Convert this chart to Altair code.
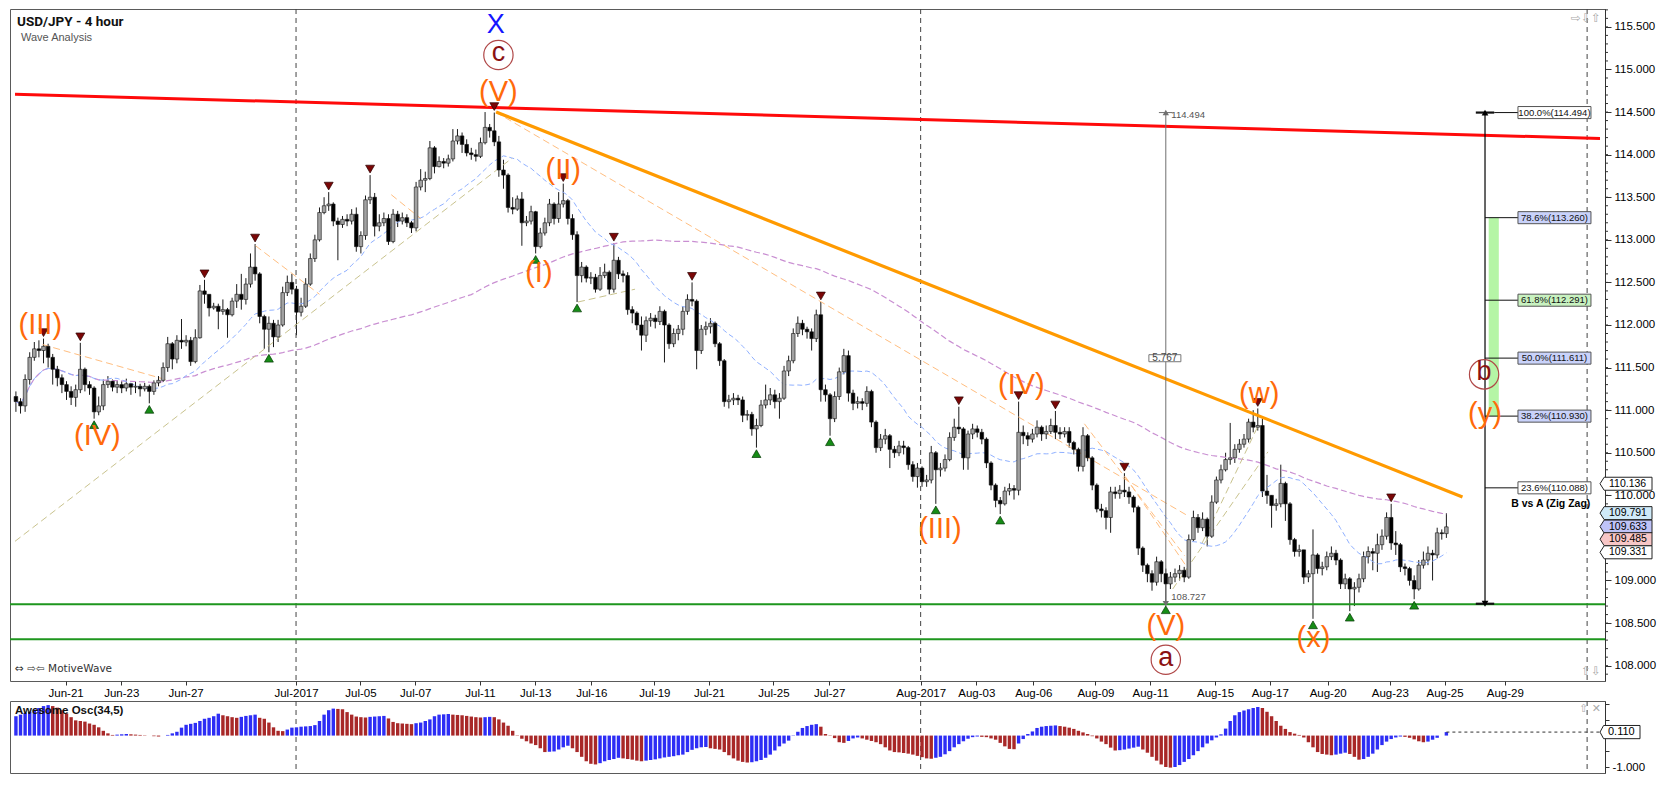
import altair as alt
import numpy as np
import pandas as pd

# ---------------- price data (4-hour candles) ----------------
first_open = 111.16
closes = [
    111.10, 111.05, 111.36, 111.62, 111.72, 111.70, 111.75, 111.62, 111.48, 111.38,
    111.30, 111.22, 111.15, 111.24, 111.48, 111.30, 111.26, 110.98, 111.05, 111.30,
    111.34, 111.27, 111.30, 111.26, 111.31, 111.27, 111.28, 111.25, 111.28, 111.22,
    111.32, 111.35, 111.50, 111.78, 111.60, 111.82, 111.80, 111.82, 111.57, 111.85,
    112.40, 112.36, 112.20, 112.22, 112.16, 112.18, 112.12, 112.28, 112.36, 112.30,
    112.48, 112.68, 112.60, 112.10, 111.95, 112.02, 111.86, 112.00, 112.38, 112.50,
    112.42, 112.15, 112.22, 112.48, 112.78, 113.00, 113.32, 113.40, 113.42, 113.22,
    113.18, 113.24, 113.22, 113.30, 112.92, 113.05, 113.47, 113.50, 113.16, 113.20,
    113.25, 112.98, 113.30, 113.22, 113.26, 113.20, 113.14, 113.62, 113.70, 113.72,
    114.08, 113.86, 113.92, 113.90, 113.95, 114.16, 114.22, 114.12, 114.02, 114.00,
    113.98, 114.14, 114.32, 114.28, 114.15, 113.82, 113.76, 113.38, 113.36, 113.48,
    113.20, 113.22, 113.33, 112.92, 113.08, 113.20, 113.42, 113.25, 113.42, 113.46,
    113.25, 113.06, 112.58, 112.68, 112.55, 112.56, 112.42, 112.58, 112.62, 112.42,
    112.76, 112.60, 112.58, 112.18, 112.14, 112.00, 111.88, 112.05, 112.08, 112.04,
    112.16, 112.00, 111.78, 111.90, 111.95, 112.16, 112.30, 112.28, 111.70, 111.95,
    111.98, 112.02, 111.78, 111.58, 111.10, 111.12, 111.14, 111.12, 110.94, 110.95,
    110.78, 110.82, 111.06, 111.12, 111.18, 111.10, 111.14, 111.46, 111.58, 111.90,
    112.02, 111.95, 111.92, 111.84, 112.12, 111.24, 111.18, 110.90, 111.16, 111.45,
    111.64, 111.20, 111.08, 111.10, 111.08, 111.22, 110.86, 110.56, 110.66, 110.70,
    110.54, 110.50, 110.58, 110.56, 110.36, 110.22, 110.32, 110.16, 110.18, 110.50,
    110.30, 110.32, 110.42, 110.68, 110.80, 110.78, 110.44, 110.72, 110.78, 110.74,
    110.66, 110.38, 110.12, 109.94, 109.90, 110.05, 110.08, 110.06, 110.74, 110.70,
    110.66, 110.72, 110.80, 110.72, 110.75, 110.82, 110.74, 110.72, 110.75, 110.62,
    110.54, 110.34, 110.70, 110.44, 110.12, 109.84, 109.82, 109.74, 110.04, 110.02,
    110.06, 110.04, 109.98, 109.86, 109.38, 109.18, 109.08, 108.98, 109.22, 109.08,
    108.96, 109.04, 109.08, 109.12, 109.04, 109.48, 109.74, 109.62, 109.72, 109.52,
    109.92, 110.18, 110.30, 110.42, 110.44, 110.54, 110.60, 110.66, 110.86, 110.80,
    110.82, 110.05, 110.00, 109.88, 109.90, 110.14, 109.90, 109.48, 109.34, 109.36,
    109.04, 109.08, 109.30, 109.14, 109.16, 109.28, 109.32, 109.24, 108.96, 109.02,
    108.90, 108.92, 109.02, 109.28, 109.34, 109.32, 109.42, 109.52, 109.74, 109.44,
    109.42, 109.16, 109.14, 109.00, 108.90, 109.18, 109.24, 109.32, 109.30, 109.56, 109.55, 109.63,
]
highs = [
    111.22, 111.14, 111.42, 111.68, 111.80, 111.82, 111.84, 111.78, 111.66, 111.52,
    111.42, 111.34, 111.28, 111.30, 111.79, 111.50, 111.34, 111.28, 111.16, 111.36,
    111.40, 111.36, 111.35, 111.34, 111.37, 111.32, 111.34, 111.31, 111.32, 111.30,
    111.35, 111.40, 111.56, 111.86, 111.80, 111.88, 112.07, 111.88, 111.86, 111.95,
    112.47, 112.53, 112.36, 112.26, 112.25, 112.30, 112.20, 112.32, 112.48, 112.60,
    112.55, 112.84, 112.95, 112.62, 112.12, 112.10, 112.06, 112.06, 112.45, 112.58,
    112.60, 112.46, 112.32, 112.55, 112.84, 113.06, 113.38, 113.50, 113.56, 113.44,
    113.26, 113.28, 113.30, 113.36, 113.38, 113.10, 113.52, 113.76, 113.55, 113.30,
    113.32, 113.30, 113.36, 113.34, 113.32, 113.30, 113.22, 113.68, 113.83, 113.80,
    114.16, 114.10, 113.98, 113.96, 114.00, 114.30, 114.30, 114.26, 114.18, 114.08,
    114.06, 114.20, 114.50, 114.36, 114.494, 114.22, 113.94, 113.78, 113.50, 113.52,
    113.56, 113.28, 113.40, 113.34, 113.14, 113.26, 113.48, 113.44, 113.56, 113.66,
    113.48, 113.30, 113.10, 112.74, 112.70, 112.62, 112.60, 112.68, 112.72, 112.64,
    112.96, 112.80, 112.64, 112.62, 112.22, 112.16, 112.10, 112.10, 112.14, 112.12,
    112.22, 112.18, 112.02, 111.96, 112.00, 112.22, 112.36, 112.50, 112.30, 112.00,
    112.04, 112.08, 112.04, 111.80, 111.60, 111.18, 111.20, 111.18, 111.16, 111.00,
    110.98, 110.90, 111.12, 111.30, 111.26, 111.24, 111.20, 111.52, 111.64, 111.96,
    112.10, 112.06, 111.98, 111.96, 112.18, 112.27, 111.30, 111.20, 111.22, 111.50,
    111.72, 111.70, 111.24, 111.16, 111.14, 111.28, 111.24, 110.88, 110.72, 110.78,
    110.72, 110.58, 110.64, 110.64, 110.58, 110.40, 110.38, 110.34, 110.24, 110.58,
    110.52, 110.38, 110.48, 110.74, 110.90, 111.04, 110.80, 110.76, 110.84, 110.82,
    110.78, 110.68, 110.40, 110.14, 109.98, 110.10, 110.14, 110.12, 111.10, 110.82,
    110.74, 110.78, 110.88, 110.82, 110.82, 110.90, 110.99, 110.80, 110.80, 110.80,
    110.64, 110.56, 110.80, 110.72, 110.46, 110.14, 109.90, 109.86, 110.10, 110.10,
    110.12, 110.26, 110.10, 110.00, 109.88, 109.40, 109.20, 109.12, 109.28, 109.24,
    109.14, 109.10, 109.14, 109.18, 109.16, 109.54, 109.82, 109.78, 109.80, 109.74,
    110.00, 110.22, 110.36, 110.50, 110.85, 110.60, 110.66, 110.72, 110.90, 111.00,
    111.02, 110.90, 110.24, 110.00, 109.96, 110.36, 110.16, 109.92, 109.50, 109.42,
    109.36, 109.12, 109.60, 109.32, 109.22, 109.34, 109.40, 109.36, 109.26, 109.08,
    109.04, 108.98, 109.08, 109.34, 109.40, 109.38, 109.55, 109.60, 109.80, 109.90,
    109.58, 109.44, 109.20, 109.16, 109.06, 109.24, 109.34, 109.40, 109.36, 109.62, 109.60, 109.79,
]
lows = [
    110.98, 110.96, 110.98, 111.30, 111.58, 111.62, 111.55, 111.50, 111.30, 111.28,
    111.20, 111.12, 111.06, 111.04, 111.20, 111.22, 111.18, 110.90, 110.94, 111.00,
    111.26, 111.22, 111.20, 111.20, 111.22, 111.18, 111.20, 111.16, 111.22, 111.08,
    111.18, 111.28, 111.33, 111.45, 111.48, 111.55, 111.72, 111.75, 111.52, 111.55,
    111.84, 112.25, 112.10, 112.18, 111.95, 112.12, 111.85, 112.10, 112.20, 112.18,
    112.24, 112.44, 112.52, 112.02, 111.72, 111.68, 111.74, 111.80, 111.98, 112.34,
    112.36, 111.88, 112.10, 112.20, 112.46, 112.74, 112.98, 113.30, 113.34, 113.16,
    112.76, 113.14, 113.16, 113.18, 112.86, 112.84, 113.00, 113.42, 113.04, 113.10,
    113.16, 112.94, 112.96, 113.15, 113.18, 113.15, 113.08, 113.10, 113.58, 113.56,
    113.70, 113.78, 113.85, 113.84, 113.86, 113.92, 114.12, 114.02, 113.98, 113.94,
    113.92, 113.96, 114.12, 114.20, 114.10, 113.74, 113.60, 113.32, 113.30, 113.34,
    112.93, 113.16, 113.18, 112.84, 112.90, 113.05, 113.16, 113.18, 113.20, 113.38,
    113.18, 113.00, 112.27, 112.50, 112.50, 112.48, 112.38, 112.40, 112.55, 112.36,
    112.38, 112.54, 112.50, 112.12, 112.02, 111.94, 111.70, 111.80, 111.98, 111.96,
    112.00, 111.56, 111.72, 111.74, 111.82, 111.88, 112.12, 112.22, 111.48, 111.66,
    111.88, 111.90, 111.74, 111.52, 111.04, 111.02, 111.06, 111.06, 110.86, 110.88,
    110.70, 110.56, 110.80, 111.02, 111.06, 111.02, 110.90, 111.12, 111.40, 111.55,
    111.86, 111.88, 111.84, 111.70, 111.80, 111.10, 111.10, 110.70, 110.86, 111.12,
    111.42, 111.10, 111.00, 111.02, 111.00, 111.04, 110.80, 110.50, 110.52, 110.60,
    110.32, 110.44, 110.46, 110.48, 110.30, 110.16, 110.09, 110.10, 110.10, 110.14,
    109.90, 110.22, 110.28, 110.40, 110.64, 110.72, 110.30, 110.30, 110.66, 110.68,
    110.60, 110.32, 110.06, 109.86, 109.78, 109.88, 110.00, 109.95, 110.00, 110.60,
    110.58, 110.62, 110.68, 110.64, 110.66, 110.72, 110.66, 110.66, 110.68, 110.56,
    110.48, 110.28, 110.28, 110.40, 110.06, 109.80, 109.74, 109.60, 109.56, 109.96,
    109.96, 109.98, 109.90, 109.80, 109.30, 109.10, 108.98, 108.88, 108.94, 108.98,
    108.727, 108.90, 108.98, 109.00, 108.98, 109.02, 109.46, 109.56, 109.58, 109.40,
    109.50, 109.90, 110.14, 110.28, 110.36, 110.38, 110.50, 110.56, 110.62, 110.74,
    110.76, 109.98, 109.90, 109.62, 109.82, 109.86, 109.70, 109.42, 109.28, 109.28,
    108.96, 108.98, 108.55, 109.08, 109.06, 109.12, 109.24, 109.18, 108.90, 108.90,
    108.64, 108.70, 108.86, 108.98, 109.20, 109.12, 109.10, 109.36, 109.48, 109.36,
    109.30, 109.10, 109.06, 108.94, 108.78, 108.88, 109.14, 109.18, 109.00, 109.26, 109.48, 109.50,
]
# Awesome Oscillator bars
ao_values = [
    0.61, 0.66, 0.71, 0.75, 0.82, 0.87, 0.93, 0.96, 0.93, 0.88,
    0.80, 0.70, 0.58, 0.48, 0.46, 0.44, 0.38, 0.34, 0.26, 0.15,
    0.07, 0.02, 0.03, 0.04, 0.05, 0.04, 0.03, 0.02, 0.01, 0.00,
    -0.02, -0.03, 0.00, 0.02, 0.07, 0.12, 0.25, 0.34, 0.37, 0.40,
    0.46, 0.53, 0.56, 0.61, 0.69, 0.64, 0.61, 0.58, 0.56, 0.59,
    0.62, 0.64, 0.66, 0.56, 0.53, 0.41, 0.26, 0.15, 0.14, 0.19,
    0.25, 0.26, 0.28, 0.29, 0.30, 0.33, 0.46, 0.66, 0.80, 0.85,
    0.84, 0.83, 0.74, 0.66, 0.60, 0.58, 0.57, 0.59, 0.60, 0.61,
    0.62, 0.54, 0.43, 0.39, 0.38, 0.37, 0.36, 0.39, 0.41, 0.46,
    0.51, 0.61, 0.66, 0.67, 0.68, 0.66, 0.65, 0.64, 0.62, 0.60,
    0.58, 0.57, 0.58, 0.59, 0.58, 0.51, 0.41, 0.31, 0.15, -0.01,
    -0.10, -0.18, -0.25, -0.30, -0.40, -0.52, -0.51, -0.50, -0.44, -0.37,
    -0.32, -0.40, -0.52, -0.67, -0.81, -0.89, -0.91, -0.87, -0.81, -0.77,
    -0.74, -0.70, -0.72, -0.74, -0.76, -0.79, -0.81, -0.79, -0.77, -0.75,
    -0.72, -0.69, -0.67, -0.65, -0.62, -0.60, -0.52, -0.45, -0.40, -0.37,
    -0.36, -0.40, -0.42, -0.44, -0.52, -0.62, -0.72, -0.79, -0.83, -0.85,
    -0.84, -0.81, -0.77, -0.70, -0.60, -0.47, -0.34, -0.25, -0.16, -0.01,
    0.12, 0.24, 0.30, 0.34, 0.36, 0.28, 0.05, 0.01, -0.08, -0.21,
    -0.23, -0.17, -0.09, -0.06, -0.09, -0.13, -0.17, -0.21, -0.27, -0.37,
    -0.47, -0.52, -0.53, -0.55, -0.57, -0.60, -0.64, -0.68, -0.72, -0.73,
    -0.70, -0.67, -0.59, -0.49, -0.37, -0.27, -0.18, -0.10, -0.05, -0.03,
    -0.04, -0.05, -0.09, -0.13, -0.23, -0.34, -0.42, -0.43, -0.25, -0.11,
    0.05, 0.13, 0.24, 0.28, 0.30, 0.31, 0.32, 0.30, 0.28, 0.25,
    0.21, 0.15, 0.10, 0.05, -0.02, -0.09, -0.19, -0.27, -0.38, -0.47,
    -0.46, -0.44, -0.41, -0.38, -0.35, -0.44, -0.54, -0.67, -0.79, -0.91,
    -0.99, -1.01, -0.99, -0.93, -0.83, -0.74, -0.62, -0.49, -0.37, -0.25,
    -0.15, -0.06, 0.04, 0.22, 0.46, 0.64, 0.74, 0.79, 0.83, 0.87,
    0.90, 0.87, 0.75, 0.61, 0.46, 0.31, 0.21, 0.11, 0.06, 0.02,
    -0.06, -0.21, -0.37, -0.52, -0.58, -0.60, -0.62, -0.60, -0.57, -0.54,
    -0.58, -0.67, -0.76, -0.74, -0.67, -0.57, -0.44, -0.30, -0.19, -0.11,
    -0.06, -0.03, -0.04, -0.07, -0.12, -0.18, -0.21, -0.19, -0.13, -0.07, 0.00, 0.11,
]

top_marks = [6, 14, 41, 52, 68, 77, 104, 119, 130, 147, 175, 205, 218, 226, 241, 270, 299]
bottom_marks = [17, 29, 55, 113, 122, 161, 177, 200, 214, 250, 282, 290, 304]

tick_pos = [10.8, 22.9, 36.9, 60.9, 74.9, 86.8, 100.9, 112.9, 125.1, 138.8, 150.7, 164.7,
            176.8, 196.7, 208.8, 221.2, 234.7, 246.6, 260.7, 272.6, 285.2, 298.7, 310.6, 323.7]
tick_labels = ["Jun-21", "Jun-23", "Jun-27", "Jul-2017", "Jul-05", "Jul-07", "Jul-11", "Jul-13",
               "Jul-16", "Jul-19", "Jul-21", "Jul-25", "Jul-27", "Aug-2017", "Aug-03", "Aug-06",
               "Aug-09", "Aug-11", "Aug-15", "Aug-17", "Aug-20", "Aug-23", "Aug-25", "Aug-29"]
period_lines = [60.9, 196.7, 341.6]

wave_text = ["(III)", "(IV)", "(V)", "(I)", "(II)", "(III)", "(IV)", "(w)", "(V)", "(x)", "(y)"]
wave_idx = [5.3, 17.7, 104.9, 113.7, 119.0, 200.9, 218.6, 270.3, 250.0, 282.1, 319.4]
wave_price = [112.0, 110.70, 114.73, 112.61, 113.82, 109.61, 111.30, 111.19, 108.47, 108.32, 110.96]

circ_text = ["c", "a", "b"]
circ_idx = [104.9, 250.0, 319.2]
circ_price = [115.17, 108.07, 111.42]

fib_text = ["100.0%(114.494)", "78.6%(113.260)", "61.8%(112.291)", "50.0%(111.611)", "38.2%(110.930)", "23.6%(110.088)"]
fib_price = [114.494, 113.26, 112.291, 111.611, 110.93, 110.088]
fib_fill = ["#ffffff", "#c9d2fa", "#c8f2c0", "#c9d2fa", "#c9d2fa", "#ffffff"]

tag_price = [110.136, 109.791, 109.633, 109.485, 109.331]
tag_fill = ["#ffffff", "#cfeaf8", "#bfc3f7", "#f7c6c6", "#ffffff"]

# ---------------- layout ----------------
W, HP, HO = 1595, 672, 72
FONT = "Liberation Sans"
XS = alt.Scale(domain=[-0.2, 344.4], nice=False, zero=False)
YS = alt.Scale(domain=[107.82, 115.71], nice=False, zero=False)
OS = alt.Scale(domain=[-1.18, 1.09], nice=False, zero=False)

N = len(closes)
assert len(highs) == N and len(lows) == N and len(ao_values) == N
df = pd.DataFrame({"idx": np.arange(N), "close": closes, "high": highs, "low": lows})
df["open"] = [first_open] + closes[:-1]
df["high"] = df[["high", "open", "close"]].max(axis=1)
df["low"] = df[["low", "open", "close"]].min(axis=1)

label_expr = ("[" + ",".join(f"'{l}'" for l in tick_labels) + "][indexof(["
              + ",".join(str(p) for p in tick_pos) + "], datum.value)]")
x_axis = alt.Axis(values=tick_pos, labelExpr=label_expr, title=None, grid=False, domain=False,
                  tickSize=4, tickColor="#333", labelFont=FONT, labelFontSize=11.5,
                  labelColor="#000", labelPadding=2)
# the 109.500 label sits under the price tags in the original, so it is left blank
y_axis = alt.Axis(orient="right", values=[float(v) for v in np.arange(108.0, 115.51, 0.5)],
                  labelExpr="datum.value == 109.5 ? '' : format(datum.value, '.3f')",
                  title=None, grid=False, tickSize=6, tickColor="#333",
                  domainColor="#333", labelFont=FONT, labelFontSize=11.5, labelColor="#000",
                  labelPadding=3)
osc_axis = alt.Axis(orient="right", values=[-1.0, -0.5, 0.0, 0.5, 1.0],
                    labelExpr="datum.value == -1 ? '-1.000' : ''", title=None, grid=False,
                    tickSize=4, tickColor="#333", domainColor="#333", labelFont=FONT,
                    labelFontSize=11.5, labelColor="#000", labelPadding=3)


def xq(f="idx"):
    return alt.X(f"{f}:Q", scale=XS, axis=x_axis)


def yq(f):
    return alt.Y(f"{f}:Q", scale=YS, axis=y_axis)


def oq(f):
    return alt.Y(f"{f}:Q", scale=OS, axis=osc_axis)


def xo(f="idx"):
    return alt.X(f"{f}:Q", scale=XS, axis=None)


def seg_chart(rows, **props):
    d = pd.DataFrame(rows, columns=["x1", "y1", "x2", "y2"])
    return alt.Chart(d).mark_rule(**props).encode(x=xq("x1"), x2="x2:Q", y=yq("y1"), y2="y2:Q")


minor = pd.DataFrame({"p": [float(v) for v in np.round(np.arange(107.9, 115.71, 0.1), 1)]})

# candles
wick = alt.Chart(df).mark_rule(color="#1a1a1a", strokeWidth=1).encode(
    x=xq(), y=yq("low"), y2="high:Q")
body = alt.Chart(df).mark_bar(size=3.6, stroke="#111", strokeWidth=0.6).encode(
    x=xq(), y=yq("open"), y2="close:Q",
    fill=alt.condition("datum.close >= datum.open", alt.value("#a2a2a2"), alt.value("#000000")))

ma_fast = alt.Chart(df).transform_window(ma="mean(close)", frame=[-19, 0], sort=[alt.SortField("idx")]) \
    .mark_line(color="#8fb0ff", strokeWidth=1, strokeDash=[5, 3]).encode(x=xq(), y=yq("ma"))
ma_slow = alt.Chart(df).transform_window(ma="mean(close)", frame=[-99, 0], sort=[alt.SortField("idx")]) \
    .mark_line(color="#c98fd2", strokeWidth=1.2, strokeDash=[6, 3]).encode(x=xq(), y=yq("ma"))

tops = alt.Chart(df.loc[top_marks]).mark_point(
    shape="triangle-down", filled=True, size=80, color="#7a0606", stroke="#2a0000",
    strokeWidth=0.7, opacity=1, yOffset=-6).encode(x=xq(), y=yq("high"))
bots = alt.Chart(df.loc[bottom_marks]).mark_point(
    shape="triangle-up", filled=True, size=80, color="#168c16", stroke="#063a06",
    strokeWidth=0.7, opacity=1, yOffset=6).encode(x=xq(), y=yq("low"))

vlines = alt.Chart(pd.DataFrame({"x": period_lines})).mark_rule(
    color="#444", strokeDash=[5, 4], strokeWidth=1).encode(x=xq("x"))
green = alt.Chart(pd.DataFrame({"y": [108.72, 108.31]})).mark_rule(
    color="#1e961e", strokeWidth=2).encode(y=yq("y"))

red_line = seg_chart([(-0.2, 114.71, 344.4, 114.19)], color="#ff0a0a", strokeWidth=3)
orange_line = seg_chart([(104.4, 114.50, 314.5, 109.98)], color="#ff9a00", strokeWidth=3.2)
orange_dash = seg_chart([(5.8, 111.77, 32.5, 111.36), (52.1, 112.93, 66.0, 112.36),
                         (81.6, 113.53, 88.0, 113.25), (104.3, 114.50, 255.1, 109.75),
                         (232.3, 110.84, 254.1, 109.29), (241.2, 110.22, 254.3, 109.18)],
                        color="#ffbe80", strokeWidth=1, strokeDash=[7, 4])
khaki_dash = seg_chart([(-0.2, 109.46, 107.9, 113.96), (122.2, 112.27, 134.6, 112.42),
                        (251.5, 108.90, 272.2, 110.51), (257.9, 109.44, 270.1, 110.82)],
                       color="#c9c38e", strokeWidth=1, strokeDash=[7, 4])

# measuring line a->X
meas = seg_chart([(250.0, 108.727, 250.0, 114.494), (248.5, 114.494, 251.5, 114.494)],
                 color="#707070", strokeWidth=1)
meas_arrows = alt.Chart(pd.DataFrame({"x": [250.0, 250.0], "y": [114.494, 108.727],
                                      "s": ["triangle-up", "triangle-down"], "o": [5, -5]})) \
    .mark_point(filled=True, size=40, color="#707070", opacity=1).encode(
        x=xq("x"), y=yq("y"), shape=alt.Shape("s:N", scale=None), yOffset=alt.YOffset("o:Q", scale=None))
meas_txt = alt.Chart(pd.DataFrame({"x": [251.2, 251.2], "y": [114.47, 108.81], "t": ["114.494", "108.727"]})) \
    .mark_text(align="left", baseline="middle", font=FONT, fontSize=9.5, color="#555").encode(
        x=xq("x"), y=yq("y"), text="t:N")
BOX_S = "M-1,-0.22L1,-0.22L1,0.22L-1,0.22Z"
meas_box = alt.Chart(pd.DataFrame({"x": [249.8], "y": [111.61], "t": ["5.767"]})) \
    .mark_point(shape=BOX_S, size=1024, filled=True, color="#ffffff", stroke="#777",
                strokeWidth=1, opacity=1).encode(x=xq("x"), y=yq("y"))
meas_box_t = alt.Chart(pd.DataFrame({"x": [249.8], "y": [111.61], "t": ["5.767"]})) \
    .mark_text(align="center", baseline="middle", font=FONT, fontSize=10, color="#444").encode(
        x=xq("x"), y=yq("y"), text="t:N")

# fibonacci tool (B vs A)
fib_green = alt.Chart(pd.DataFrame({"x1": [320.2], "x2": [322.4], "y1": [110.93], "y2": [113.26]})) \
    .mark_rect(color="#b5f5a6").encode(x=xq("x1"), x2="x2:Q", y=yq("y1"), y2="y2:Q")
fib_main = seg_chart([(319.4, 108.727, 319.4, 114.494)], color="#000", strokeWidth=1.2)
fib_caps = seg_chart([(317.4, 114.494, 321.4, 114.494), (317.4, 108.727, 321.4, 108.727)],
                     color="#111", strokeWidth=2.2)
fib_levels = seg_chart([(321.4, 114.494, 326.7, 114.494)] + [(319.4, p, 326.7, p) for p in fib_price[1:]],
                       color="#111", strokeWidth=1)
fib_arrows = alt.Chart(pd.DataFrame({"x": [319.4, 319.4], "y": [114.494, 108.727],
                                     "s": ["triangle-up", "triangle-down"], "o": [6, -6]})) \
    .mark_point(filled=True, size=45, color="#000", opacity=1).encode(
        x=xq("x"), y=yq("y"), shape=alt.Shape("s:N", scale=None), yOffset=alt.YOffset("o:Q", scale=None))
fib_df = pd.DataFrame({"x": [334.5] * len(fib_price), "y": fib_price, "t": fib_text, "f": fib_fill})
BOX_F = "M-1,-0.165L1,-0.165L1,0.165L-1,0.165Z"
fib_boxes = alt.Chart(fib_df).mark_point(shape=BOX_F, size=5329, filled=True, stroke="#555",
                                         strokeWidth=1, opacity=1).encode(
    x=xq("x"), y=yq("y"), fill=alt.Fill("f:N", scale=None))
fib_txt = alt.Chart(fib_df).mark_text(align="center", baseline="middle", font=FONT, fontSize=9.5,
                                      color="#111").encode(x=xq("x"), y=yq("y"), text="t:N")
bva = alt.Chart(pd.DataFrame({"x": [342.3], "y": [109.90], "t": ["B vs A (Zig Zag)"]})) \
    .mark_text(align="right", baseline="middle", font=FONT, fontSize=10.5, fontWeight="bold",
               color="#000").encode(x=xq("x"), y=yq("y"), text="t:N")

# wave labels
wave_df = pd.DataFrame({"x": wave_idx, "y": wave_price, "t": wave_text})
waves = alt.Chart(wave_df).mark_text(align="center", baseline="middle", font=FONT, fontSize=29,
                                     color="#ff6a0a").encode(x=xq("x"), y=yq("y"), text="t:N")
circ_df = pd.DataFrame({"x": circ_idx, "y": circ_price, "t": circ_text})
circles = alt.Chart(circ_df).mark_point(shape="circle", size=860, filled=False, stroke="#b04848",
                                        strokeWidth=1.2, opacity=1).encode(x=xq("x"), y=yq("y"))
circ_txt = alt.Chart(circ_df).mark_text(align="center", baseline="middle", font=FONT, fontSize=27,
                                        color="#8b1212", dy=-2).encode(x=xq("x"), y=yq("y"), text="t:N")
big_x = alt.Chart(pd.DataFrame({"x": [104.3], "y": [115.52], "t": ["X"]})) \
    .mark_text(align="center", baseline="middle", font=FONT, fontSize=27, color="#1515ff") \
    .encode(x=xq("x"), y=yq("y"), text="t:N")

# right side price tags
TAG = "M-1,0L-0.84,-0.25L1,-0.25L1,0.25L-0.84,0.25Z"
tag_df = pd.DataFrame({"y": tag_price, "t": [f"{p:.3f}" for p in tag_price], "f": tag_fill})
tags = alt.Chart(tag_df).mark_point(shape=TAG, size=2704, filled=True, stroke="#222",
                                    strokeWidth=1, opacity=1).encode(
    x=alt.value(W + 21), y=yq("y"), fill=alt.Fill("f:N", scale=None))
tag_txt = alt.Chart(tag_df).mark_text(align="left", baseline="middle", font=FONT, fontSize=10.5,
                                      color="#000").encode(x=alt.value(W + 4), y=yq("y"), text="t:N")
minor_ticks = alt.Chart(minor).mark_rule(color="#333", strokeWidth=1).encode(
    x=alt.value(W), x2=alt.value(W + 3), y=yq("p"))

# panel texts
title = alt.Chart(pd.DataFrame({"t": ["USD/JPY - 4 hour"]})).mark_text(
    align="left", baseline="middle", font="Roboto", fontSize=13.5, fontWeight="bold", color="#111"
).encode(x=alt.value(7), y=alt.value(13), text="t:N")
subtitle = alt.Chart(pd.DataFrame({"t": ["Wave Analysis"]})).mark_text(
    align="left", baseline="middle", font=FONT, fontSize=11, color="#555"
).encode(x=alt.value(11), y=alt.value(29), text="t:N")
brand = alt.Chart(pd.DataFrame({"t": ["⇔ ⇨⇦ MotiveWave"]})).mark_text(
    align="left", baseline="middle", font="DejaVu Sans", fontSize=10.5, color="#333"
).encode(x=alt.value(5), y=alt.value(HP - 12), text="t:N")
icons_top = alt.Chart(pd.DataFrame({"t": ["⇨⇩⇧"]})).mark_text(
    align="right", baseline="middle", font="DejaVu Sans", fontSize=12, color="#aaa"
).encode(x=alt.value(W - 4), y=alt.value(9), text="t:N")
icons_bot = alt.Chart(pd.DataFrame({"t": ["⇧⇩"]})).mark_text(
    align="right", baseline="middle", font="DejaVu Sans", fontSize=12, color="#aaa"
).encode(x=alt.value(W - 4), y=alt.value(HP - 10), text="t:N")

price = alt.layer(
    wick, vlines, green, ma_slow, ma_fast, khaki_dash, orange_dash, red_line, orange_line,
    fib_green, meas, meas_arrows, meas_txt, meas_box, meas_box_t,
    fib_main, fib_caps, fib_levels, fib_arrows, fib_boxes, fib_txt, bva,
    body, tops, bots, waves, circles, circ_txt, big_x,
    minor_ticks, tags, tag_txt, title, subtitle, brand, icons_top, icons_bot,
).properties(width=W, height=HP)

# ---------------- oscillator ----------------
osc_df = pd.DataFrame({"idx": np.arange(N), "ao": ao_values, "zero": 0.0})
ao_bars = alt.Chart(osc_df).transform_window(prev="lag(ao)", sort=[alt.SortField("idx")]) \
    .mark_bar(size=3.4).encode(
        x=xo(), y=oq("ao"), y2="zero:Q",
        color=alt.condition("datum.prev == null || datum.ao > datum.prev",
                            alt.value("#2d2df5"), alt.value("#a82828")))
osc_v = alt.Chart(pd.DataFrame({"x": period_lines})).mark_rule(
    color="#444", strokeDash=[5, 4], strokeWidth=1).encode(x=xo("x"))
osc_last = alt.Chart(pd.DataFrame({"x1": [311.0], "x2": [344.4], "y": [0.11]})).mark_rule(
    color="#333", strokeDash=[3, 3], strokeWidth=1).encode(x=xo("x1"), x2="x2:Q", y=oq("y"))
TAG_O = "M-1,0L-0.82,-0.33L1,-0.33L1,0.33L-0.82,0.33Z"
osc_tag = alt.Chart(pd.DataFrame({"y": [0.11], "t": ["0.110"]})).mark_point(
    shape=TAG_O, size=1600, filled=True, color="#ffffff", stroke="#222", strokeWidth=1, opacity=1
).encode(x=alt.value(W + 15), y=oq("y"))
osc_tag_t = alt.Chart(pd.DataFrame({"y": [0.11], "t": ["0.110"]})).mark_text(
    align="left", baseline="middle", font=FONT, fontSize=11, color="#000"
).encode(x=alt.value(W + 3), y=oq("y"), text="t:N")
osc_title = alt.Chart(pd.DataFrame({"t": ["Awesome Osc(34,5)"]})).mark_text(
    align="left", baseline="middle", font=FONT, fontSize=11.5, fontWeight="bold", color="#111"
).encode(x=alt.value(5), y=alt.value(10), text="t:N")
osc_icons = alt.Chart(pd.DataFrame({"t": ["⇧ ✕"]})).mark_text(
    align="right", baseline="middle", font="DejaVu Sans", fontSize=11, color="#aaa"
).encode(x=alt.value(W - 4), y=alt.value(8), text="t:N")

osc = alt.layer(osc_v, ao_bars, osc_last, osc_tag, osc_tag_t, osc_title, osc_icons) \
    .properties(width=W, height=HO)

chart = alt.vconcat(price, osc, spacing=1).properties(
    padding={"left": 0, "top": 0, "right": 0, "bottom": 0}, background="#ffffff"
).configure_view(stroke="#5a5a5a", strokeWidth=1)

chart.save("out.html", embed_options={"renderer": "svg", "actions": False})
